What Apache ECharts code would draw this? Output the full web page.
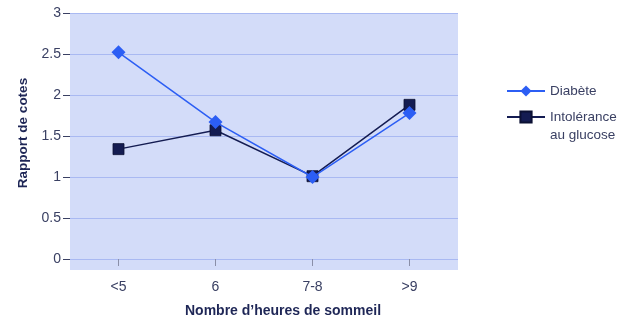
<!DOCTYPE html>
<html>
<head>
<meta charset="utf-8">
<script src="https://cdn.jsdelivr.net/npm/echarts@6/dist/echarts.min.js"></script>
<style>html,body{margin:0;padding:0;background:#fff;}#c{width:620px;height:325px;}</style>
</head>
<body>
<div id="c"></div>
<script>
const categories = ['<5', '6', '7-8', '>9'];
const diabete = [2.52, 1.67, 1.0, 1.78];
const intolerance = [1.34, 1.57, 1.01, 1.88];
const yTicks = [0, 0.5, 1, 1.5, 2, 2.5, 3];
const yTickLabels = ['0', '0.5', '1', '1.5', '2', '2.5', '3'];

const textColor = '#3a4063';
const titleColor = '#1e2656';
const font = 'Liberation Sans, Arial, sans-serif';

const chart = echarts.init(document.getElementById('c'), null, {renderer: 'canvas'});
chart.setOption({
  animation: false,
  backgroundColor: '#ffffff',
  grid: {
    left: 70, right: 162, top: 13, bottom: 55,
    show: true, backgroundColor: '#d3dcf9', borderWidth: 0
  },
  legend: {
    orient: 'vertical',
    left: 501,
    top: 77,
    itemWidth: 38,
    itemHeight: 14,
    itemGap: -10,
    textStyle: {fontFamily: font, fontSize: 13.5, color: textColor, lineHeight: 18},
    formatter: function (n) { return n.indexOf(' au ') >= 0 ? '\n' + n.replace(' au ', '\nau ') : n; },
    data: ['Diabète', 'Intolérance au glucose']
  },
  xAxis: {
    type: 'category',
    data: categories,
    boundaryGap: true,
    axisLine: {show: false},
    axisTick: {show: true, alignWithLabel: true, length: 7, lineStyle: {color: '#8a8fa8', width: 1}},
    axisLabel: {fontFamily: font, fontSize: 14, color: textColor, margin: 10},
    splitLine: {show: false},
    name: 'Nombre d’heures de sommeil',
    nameLocation: 'middle',
    nameGap: 34,
    nameTextStyle: {fontFamily: font, fontSize: 14, fontWeight: 'bold', color: titleColor, padding: [0, 0, 0, 38]}
  },
  yAxis: {
    type: 'value',
    min: -0.134,
    max: 3,
    axisLine: {show: false},
    axisTick: {show: true, length: 7, customValues: yTicks, lineStyle: {color: '#3a4063', width: 1}},
    axisLabel: {
      fontFamily: font, fontSize: 14, color: textColor, margin: 9,
      customValues: yTicks,
      formatter: function (v) { const i = yTicks.indexOf(v); return i >= 0 ? yTickLabels[i] : ''; }
    },
    splitLine: {show: true, lineStyle: {color: '#a9b9f2', width: 1}},
    name: 'Rapport de cotes',
    nameLocation: 'middle',
    nameGap: 31,
    nameTextStyle: {fontFamily: font, fontSize: 13.5, fontWeight: 'bold', color: titleColor, padding: [0, 0, 0, 17]}
  },
  series: [
    {
      name: 'Intolérance au glucose',
      type: 'line',
      data: intolerance,
      symbol: 'rect',
      symbolSize: 11,
      z: 2,
      itemStyle: {color: '#141c52', borderColor: '#0b1033', borderWidth: 0.8},
      lineStyle: {color: '#141c52', width: 1.5}
    },
    {
      name: 'Diabète',
      type: 'line',
      data: diabete,
      symbol: 'diamond',
      symbolSize: 14,
      z: 3,
      itemStyle: {color: '#2c5ef4'},
      lineStyle: {color: '#2c5ef4', width: 1.5}
    }
  ]
});
</script>
</body>
</html>
